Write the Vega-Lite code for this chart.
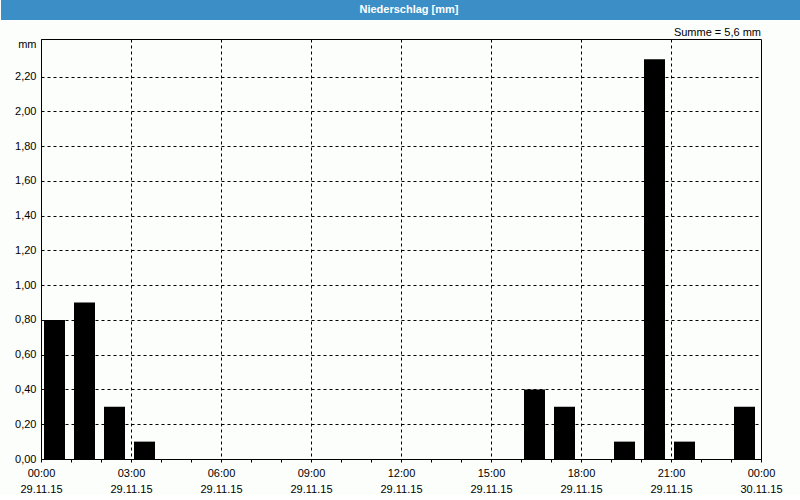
{
  "$schema": "https://vega.github.io/schema/vega-lite/v6.json",
  "padding": 0,
  "autosize": {"type": "pad"},
  "background": "#fcfefc",
  "spacing": 6,
  "config": {
    "font": "Liberation Sans",
    "view": {"stroke": "black", "strokeWidth": 1}
  },
  "vconcat": [
    {
      "width": 720,
      "height": 20,
      "view": {"stroke": null},
      "data": {"values": [{"label": "Niederschlag [mm]", "pos": 0.51, "start": 0, "end": 1}]},
      "layer": [
        {
          "mark": {"type": "rect", "color": "#3b8fc6"},
          "encoding": {
            "x": {"field": "start", "type": "quantitative", "scale": {"domain": [0, 1], "range": [-40, 760]}, "axis": null},
            "x2": {"field": "end"}
          }
        },
        {
          "mark": {"type": "text", "color": "white", "fontWeight": "bold", "fontSize": 11, "font": "Liberation Sans", "baseline": "middle"},
          "encoding": {
            "x": {"field": "pos", "type": "quantitative", "scale": {"domain": [0, 1], "range": [-40, 760]}, "axis": null},
            "text": {"field": "label"}
          }
        }
      ]
    },
    {
      "width": 720,
      "height": 420,
      "title": {"text": "Summe = 5,6 mm", "anchor": "end", "frame": "group", "fontSize": 11, "fontWeight": "normal", "color": "black", "baseline": "bottom", "offset": -10.5, "font": "Liberation Sans"},
      "data": {"values": [
        {"hour": 0, "mm": 0.8},
        {"hour": 1, "mm": 0.9},
        {"hour": 2, "mm": 0.3},
        {"hour": 3, "mm": 0.1},
        {"hour": 16, "mm": 0.4},
        {"hour": 17, "mm": 0.3},
        {"hour": 19, "mm": 0.1},
        {"hour": 20, "mm": 2.3},
        {"hour": 21, "mm": 0.1},
        {"hour": 23, "mm": 0.3}
      ]},
      "mark": {"type": "bar", "color": "black", "width": 21, "xOffset": 13.5},
      "encoding": {
        "x": {
          "field": "hour", "type": "quantitative",
          "scale": {"domain": [0, 24], "nice": false, "zero": false, "padding": 0},
          "axis": {
            "title": null,
            "values": [0,1,2,3,4,5,6,7,8,9,10,11,12,13,14,15,16,17,18,19,20,21,22,23,24],
            "labelExpr": "datum.value % 3 != 0 ? '' : (datum.value == 24 ? ['00:00', '30.11.15'] : [(datum.value < 10 ? '0' : '') + datum.value + ':00', '29.11.15'])",
            "labelFontSize": 11, "labelColor": "black", "labelFont": "Liberation Sans",
            "labelLineHeight": 16, "labelPadding": 5, "labelAngle": 0, "labelOverlap": false, "labelFlush": false,
            "tickSize": 3, "tickColor": "black", "domainColor": "black",
            "grid": true, "gridColor": "black", "gridDash": [3, 3],
            "gridOpacity": {"condition": {"test": "datum.value % 3 != 0 || datum.value == 0 || datum.value == 24", "value": 0}, "value": 1}
          }
        },
        "y": {
          "field": "mm", "type": "quantitative",
          "scale": {"domain": [0, 2.417], "nice": false, "padding": 0},
          "axis": {
            "title": null,
            "values": [0, 0.2, 0.4, 0.6, 0.8, 1.0, 1.2, 1.4, 1.6, 1.8, 2.0, 2.2, 2.4],
            "labelExpr": "datum.value > 2.3 ? 'mm' : replace(format(datum.value, '.2f'), '.', ',')",
            "labelFontSize": 11, "labelColor": "black", "labelFont": "Liberation Sans",
            "labelOffset": {"condition": {"test": "datum.value > 2.3", "value": 3}, "value": 0},
            "labelPadding": 5, "ticks": false, "domainColor": "black",
            "minExtent": 40, "maxExtent": 40,
            "grid": true, "gridColor": "black", "gridDash": [3, 3],
            "gridOpacity": {"condition": {"test": "datum.value > 2.3 || datum.value == 0", "value": 0}, "value": 1}
          }
        }
      }
    }
  ]
}
